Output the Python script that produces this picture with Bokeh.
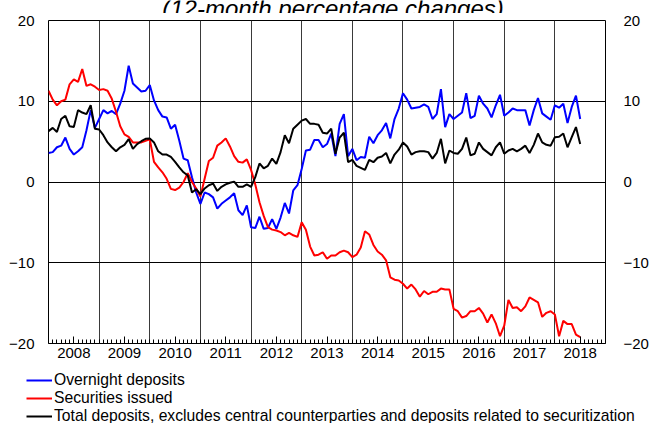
from bokeh.plotting import figure
from bokeh.layouts import column
from bokeh.models import Range1d, LinearAxis, FixedTicker, Legend, LegendItem
from bokeh.core.properties import value
from bokeh.embed import file_html
from bokeh.resources import INLINE

# ---- data (12-month percentage changes, monthly from Jan 2008) ----
start_year = 2008
year_labels = [str(y) for y in range(2008, 2019)]
y_ticks = [-20, -10, 0, 10, 20]
title_text = "(12-month percentage changes)"
series_names = [
    "Overnight deposits",
    "Securities issued",
    "Total deposits, excludes central counterparties and deposits related to securitization",
]

overnight = [
    3.6, 3.7, 4.3, 4.5, 5.5, 4.1, 3.4, 3.8, 4.3, 6.4, 8.9, 6.7,
    7.8, 8.9, 8.5, 8.8, 8.4, 9.7, 11.3, 14.4, 12.2, 11.7, 11.2, 11.3,
    12.0, 10.1, 8.9, 8.1, 8.0, 6.6, 7.1, 5.1, 2.9, 2.7, 0.6, -1.3,
    -2.7, -1.3, -1.5, -1.9, -3.3, -2.7, -2.3, -1.9, -1.4, -3.5, -4.1, -2.9,
    -5.6, -5.7, -4.3, -5.8, -5.7, -4.6, -5.8, -4.4, -2.6, -3.9, -1.05, -0.4,
    1.6, 3.9, 4.0, 5.2, 5.2, 4.3, 4.7, 6.0, 3.2, 7.2, 8.4, 3.2,
    4.1, 2.7, 3.1, 3.0, 5.6, 4.8, 5.8, 6.4, 7.3, 5.4, 7.8, 9.1,
    11.0, 10.2, 9.1, 9.2, 9.3, 9.6, 9.3, 7.8, 8.4, 11.5, 6.8, 8.4,
    7.8, 8.2, 8.6, 11.0, 7.9, 8.2, 10.7, 9.7, 9.1, 8.0, 9.5, 10.8,
    8.2, 8.6, 9.1, 8.9, 8.9, 8.9, 7.0, 8.9, 10.4, 8.5, 8.1, 7.7,
    9.5, 9.2, 9.7, 7.3, 9.3, 10.7, 7.8,
]

securities = [
    11.3, 10.2, 9.5, 10.0, 10.2, 12.1, 12.7, 12.4, 14.0, 11.9, 12.1, 11.8,
    11.4, 11.5, 11.3, 10.3, 8.7, 6.9, 5.9, 5.6, 4.9, 4.9, 4.9, 5.1,
    5.3, 2.5, 1.8, 1.2, 0.4, -0.85, -1.0, -0.7, 0.0, 1.1, 0.0, -0.8,
    -1.8, 0.4, 2.6, 3.0, 4.5, 4.9, 5.4, 4.4, 3.2, 2.5, 2.4, 2.8,
    1.5, -0.3, -2.5, -4.2, -5.6, -5.9, -6.0, -6.2, -6.6, -6.3, -6.6, -6.8,
    -5.0, -5.9, -8.0, -9.1, -9.0, -8.7, -9.5, -9.1, -9.1, -8.7, -8.5, -8.7,
    -9.3, -9.0, -8.1, -6.1, -6.5, -7.8, -8.6, -9.0, -9.7, -11.8, -12.1, -12.2,
    -12.6, -13.2, -12.7, -13.3, -14.2, -13.5, -13.9, -13.6, -13.6, -13.2, -13.3, -13.3,
    -15.7, -16.0, -16.8, -16.6, -16.0, -16.0, -15.6, -16.3, -17.4, -16.4, -17.5, -19.1,
    -17.8, -14.6, -15.6, -15.5, -16.0, -15.4, -14.3, -14.6, -14.9, -16.7, -16.2, -16.0,
    -16.4, -19.1, -17.2, -17.6, -17.6, -18.9, -19.2,
]

total = [
    6.3, 6.7, 6.2, 7.8, 8.2, 6.9, 6.8, 8.9, 8.6, 8.4, 9.5, 6.6,
    6.5, 5.8, 4.9, 4.3, 3.8, 4.3, 4.6, 5.3, 4.1, 4.7, 5.05, 5.35,
    5.4, 4.9, 3.8, 3.4, 3.4, 3.1, 2.5, 1.8, 1.2, 0.8, -1.3, -0.9,
    -1.5, -0.8, -0.4, -0.2, -1.1, -0.6, -0.3, -0.1, 0.05, -0.6, -0.6, -0.3,
    -0.6, 0.6, 2.3, 1.7, 2.0, 2.9, 2.25, 3.7, 5.8, 4.8, 6.6, 7.1,
    7.6, 7.8, 7.2, 7.2, 7.1, 6.1, 6.0, 6.6, 3.5, 5.5, 6.1, 2.45,
    2.75, 2.0, 1.75, 1.5, 2.75, 2.45, 3.0, 3.15, 3.6, 2.3, 3.4, 4.0,
    4.9, 4.4, 3.4, 3.7, 3.8, 3.8, 3.7, 2.9, 3.6, 5.35, 2.3, 3.9,
    3.6, 3.5, 4.1, 5.5, 3.3, 3.5, 4.9, 4.1, 3.7, 3.3, 4.3, 4.9,
    3.5, 3.9, 4.1, 3.8, 4.1, 4.5, 3.6, 4.6, 6.0, 4.9, 4.6, 4.5,
    5.55, 5.6, 6.0, 4.3, 5.55, 6.8, 4.7,
]

FONT = "Liberation Sans"
colors = ["#0000ff", "#ff0000", "black"]
series = [overnight, securities, total]
n_years = len(year_labels)
x_months = [start_year + i / 12 for i in range(len(overnight))]

W = 651
TITLE_H = 13
FRAME_TOP, FRAME_BOTTOM = 20, 343
MAIN_H = FRAME_BOTTOM - TITLE_H + 24
LEGEND_H = 423 - TITLE_H - MAIN_H


def bare_strip(height, x_range, y_range):
    f = figure(width=W, height=height, output_backend="svg", toolbar_location=None,
               x_axis_type=None, y_axis_type=None,
               x_range=x_range, y_range=y_range, min_border=0)
    f.frame_align = False
    f.outline_line_color = None
    f.background_fill_color = "white"
    f.border_fill_color = "white"
    f.grid.visible = False
    return f


# ---------------- title strip (cut at the top edge, as in the original) ----------------
tf = bare_strip(TITLE_H, Range1d(0, W), Range1d(0, TITLE_H))
tf.text(x=[332.5], y=[TITLE_H - 8], text=[title_text],
        text_align="center", text_baseline="alphabetic",
        text_font=value(FONT), text_font_style="italic",
        text_font_size="24px", text_color="black")

# ---------------- main chart ----------------
p = figure(
    width=W, height=MAIN_H,
    output_backend="svg", toolbar_location=None,
    x_range=Range1d(start_year, start_year + n_years),
    y_range=Range1d(-20, 20),
    min_border_left=48, min_border_right=41,
    min_border_top=FRAME_TOP - TITLE_H,
    min_border_bottom=MAIN_H - (FRAME_BOTTOM - TITLE_H),
)
p.frame_align = False
p.background_fill_color = "white"
p.border_fill_color = "white"
p.outline_line_color = "black"
p.outline_line_width = 1

p.xgrid.ticker = FixedTicker(ticks=[start_year + k for k in range(1, n_years)])
p.xgrid.grid_line_color = "#3a3a3a"
p.xgrid.grid_line_width = 1
p.ygrid.ticker = FixedTicker(ticks=[t for t in y_ticks if abs(t) < 20])
p.ygrid.grid_line_color = "black"
p.ygrid.grid_line_width = 1

xa = p.xaxis[0]
mids = [start_year + k + 0.5 for k in range(n_years)]
xa.ticker = FixedTicker(ticks=mids,
                        minor_ticks=[start_year + k / 12 for k in range(n_years * 12 + 1)])
xa.major_label_overrides = {m: lab for m, lab in zip(mids, year_labels)}
xa.axis_line_color = None
xa.major_tick_in = 7
xa.major_tick_out = 0
xa.minor_tick_in = 4
xa.minor_tick_out = 0
xa.major_tick_line_color = "black"
xa.minor_tick_line_color = "black"
xa.major_label_standoff = 4
xa.major_label_text_font = FONT
xa.major_label_text_font_size = "15px"
xa.major_label_text_color = "black"

ya = p.yaxis[0]
ya.ticker = FixedTicker(ticks=y_ticks)
ya.axis_line_color = None
ya.major_tick_in = 0
ya.major_tick_out = 0
ya.minor_tick_line_color = None
ya.major_label_standoff = 14
ya.major_label_text_font = FONT
ya.major_label_text_font_size = "15px"
ya.major_label_text_color = "black"

ra = LinearAxis(ticker=FixedTicker(ticks=y_ticks))
ra.axis_line_color = None
ra.major_tick_in = 0
ra.major_tick_out = 0
ra.minor_tick_line_color = None
ra.major_label_standoff = 18
ra.major_label_text_font = FONT
ra.major_label_text_font_size = "15px"
ra.major_label_text_color = "black"
p.add_layout(ra, "right")

for ys, c in zip(series, colors):
    p.line(x_months, ys, line_color=c, line_width=2)

# ---------------- legend strip ----------------
lg = bare_strip(LEGEND_H, Range1d(start_year, start_year + n_years), Range1d(100, 200))
key_renderers = [lg.line(x_months, ys, line_color=c, line_width=2)
                 for ys, c in zip(series, colors)]
legend = Legend(
    items=[LegendItem(label=name, renderers=[r]) for name, r in zip(series_names, key_renderers)],
    location=(26, -2), orientation="vertical",
    glyph_width=26, glyph_height=18, label_height=18, label_standoff=2,
    spacing=0, padding=0, margin=0,
    border_line_color=None, background_fill_alpha=0,
    label_text_font=FONT, label_text_font_size="15.7px", label_text_color="black",
)
lg.add_layout(legend)

page = column(tf, p, lg, spacing=0)
open("out.html", "w").write(file_html(page, INLINE))
